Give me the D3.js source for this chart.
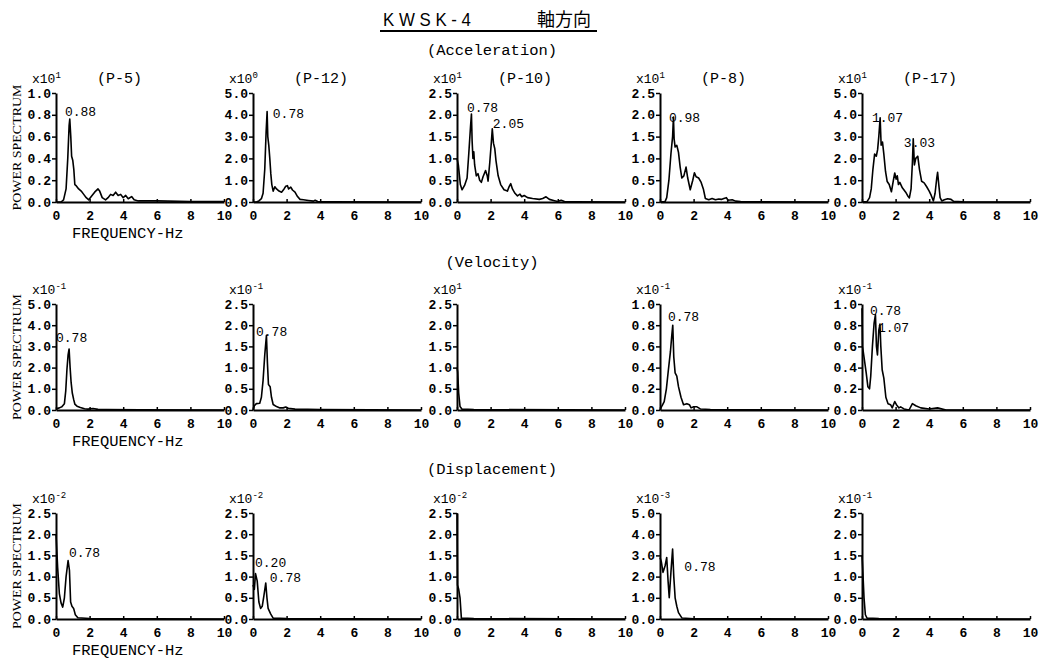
<!DOCTYPE html>
<html><head><meta charset="utf-8">
<script src="https://cdn.jsdelivr.net/npm/d3@7"></script>
<style>body{margin:0;background:#fff}svg{display:block}</style>
</head><body>
<script>
// ---------- data ----------
const sectionNames = ["(Acceleration)", "(Velocity)", "(Displacement)"];
const pointNames = ["(P-5)", "(P-12)", "(P-10)", "(P-8)", "(P-17)"];
const freqTicks = [0, 2, 4, 6, 8, 10];
const yMax = [[1.0, 5.0, 2.5, 2.5, 5.0], [5.0, 2.5, 2.5, 1.0, 1.0], [2.5, 2.5, 2.5, 5.0, 2.5]];
const yStep = [[0.2, 1.0, 0.5, 0.5, 1.0], [1.0, 0.5, 0.5, 0.2, 0.2], [0.5, 0.5, 0.5, 1.0, 0.5]];
const exponents = [["1", "0", "1", "1", "1"], ["-1", "-1", "1", "-1", "-1"], ["-2", "-2", "-2", "-3", "-1"]];

const accP5 = [[0,0],[0.3,0],[0.45,0.02],[0.6,0.12],[0.7,0.4],[0.78,0.7],[0.82,0.76],[0.88,0.6],[0.93,0.42],[1.0,0.38],[1.06,0.3],[1.12,0.16],[1.2,0.15],[1.35,0.12],[1.5,0.1],[1.65,0.07],[1.8,0.04],[1.95,0.02],[2.1,0.05],[2.3,0.09],[2.5,0.12],[2.6,0.1],[2.75,0.04],[2.95,0.02],[3.1,0.04],[3.25,0.07],[3.4,0.06],[3.55,0.09],[3.7,0.06],[3.85,0.07],[4.0,0.04],[4.15,0.06],[4.3,0.03],[4.5,0.05],[4.65,0.02],[4.9,0.01],[6,0.01],[8,0.005],[10,0.003]];
const accP12 = [[0,0],[0.2,0],[0.35,0.05],[0.5,0.15],[0.6,0.4],[0.7,1.5],[0.78,3.2],[0.84,4.15],[0.88,3.0],[0.94,2.6],[1.0,2.0],[1.06,1.3],[1.12,0.8],[1.2,0.5],[1.3,0.7],[1.4,0.6],[1.55,0.5],[1.7,0.45],[1.85,0.6],[1.95,0.72],[2.05,0.75],[2.12,0.6],[2.25,0.68],[2.35,0.55],[2.5,0.45],[2.65,0.25],[2.8,0.12],[3.0,0.1],[3.3,0.07],[3.6,0.04],[3.7,0.08],[3.85,0.02],[4.5,0.01],[10,0]];
const accP10 = [[0,1.0],[0.08,0.85],[0.2,0.4],[0.3,0.28],[0.45,0.38],[0.6,0.55],[0.7,1.1],[0.8,1.7],[0.86,2.02],[0.9,1.4],[0.95,1.0],[1.0,1.15],[1.05,0.85],[1.15,0.6],[1.25,0.65],[1.35,0.5],[1.45,0.45],[1.55,0.58],[1.7,0.72],[1.8,0.6],[1.85,0.48],[1.95,0.9],[2.05,1.4],[2.1,1.68],[2.17,1.35],[2.25,1.22],[2.32,0.95],[2.45,0.6],[2.6,0.4],[2.8,0.28],[3.0,0.25],[3.1,0.35],[3.2,0.42],[3.3,0.3],[3.45,0.2],[3.6,0.14],[3.75,0.18],[3.85,0.12],[4.0,0.15],[4.2,0.1],[4.5,0.08],[4.9,0.06],[5.1,0.08],[5.3,0.12],[5.5,0.06],[5.8,0.03],[6.0,0.01],[6.2,0.04],[6.4,0.01],[7,0.005],[10,0]];
const accP8 = [[0,0],[0.3,0.01],[0.4,0.1],[0.53,0.5],[0.65,1.1],[0.75,1.5],[0.8,1.95],[0.84,1.45],[0.9,1.26],[1.0,1.3],[1.1,1.14],[1.2,0.8],[1.3,0.55],[1.42,0.6],[1.55,0.8],[1.65,0.55],[1.8,0.28],[1.95,0.5],[2.05,0.67],[2.15,0.58],[2.3,0.55],[2.45,0.45],[2.58,0.3],[2.7,0.08],[2.9,0.05],[3.1,0.08],[3.3,0.05],[3.5,0.07],[3.65,0.06],[3.8,0.08],[3.95,0.1],[4.05,0.04],[4.3,0.05],[4.5,0.02],[4.8,0.01],[6,0.005],[10,0]];
const accP17 = [[0,0],[0.3,0.02],[0.45,0.2],[0.55,0.6],[0.65,1.5],[0.75,2.2],[0.85,2.1],[0.93,2.4],[1.0,3.0],[1.08,3.86],[1.14,2.6],[1.22,2.75],[1.3,2.2],[1.4,1.4],[1.5,0.94],[1.62,0.8],[1.75,0.47],[1.87,1.0],[1.95,1.33],[2.03,1.05],[2.1,1.2],[2.17,0.8],[2.25,0.9],[2.4,0.65],[2.6,0.45],[2.75,0.25],[2.82,0.19],[2.92,0.6],[3.0,1.8],[3.05,2.9],[3.12,1.7],[3.2,2.0],[3.32,2.1],[3.42,1.5],[3.55,0.95],[3.7,0.88],[3.85,0.7],[4.0,0.5],[4.12,0.3],[4.25,0.05],[4.35,0.4],[4.45,1.1],[4.5,1.36],[4.57,0.8],[4.65,0.2],[4.75,0.05],[4.9,0.1],[5.1,0.15],[5.3,0.12],[5.45,0.03],[6,0.01],[10,0]];

const velP5 = [[0,0.05],[0.2,0.1],[0.35,0.15],[0.5,0.3],[0.58,0.9],[0.65,1.9],[0.72,2.6],[0.78,2.88],[0.84,2.0],[0.9,1.3],[0.97,0.8],[1.05,0.5],[1.12,0.28],[1.25,0.18],[1.45,0.12],[1.7,0.06],[1.9,0.04],[2.2,0.07],[2.5,0.03],[3,0.02],[5,0.01],[10,0]];
const velP12 = [[0,0],[0.08,0.1],[0.2,0.15],[0.4,0.16],[0.5,0.3],[0.6,0.7],[0.7,1.3],[0.8,1.76],[0.86,1.1],[0.92,0.6],[1.02,0.55],[1.1,0.3],[1.2,0.13],[1.4,0.08],[1.6,0.05],[1.8,0.05],[1.95,0.07],[2.1,0.04],[2.5,0.02],[4,0.01],[10,0]];
const velP10 = [[0,1.0],[0.04,0.9],[0.1,0.4],[0.18,0.08],[0.3,0.02],[1,0.01],[10,0]];
const velP8 = [[0,0],[0.12,0.04],[0.25,0.08],[0.38,0.2],[0.5,0.38],[0.62,0.55],[0.7,0.7],[0.76,0.8],[0.82,0.5],[0.9,0.35],[1.0,0.32],[1.1,0.22],[1.25,0.12],[1.4,0.05],[1.6,0.06],[1.75,0.05],[1.85,0.02],[2.0,0.03],[2.2,0.03],[2.4,0.01],[3,0.005],[10,0]];
const velP17 = [[0,0.96],[0.03,0.6],[0.12,0.5],[0.25,0.35],[0.35,0.22],[0.45,0.2],[0.52,0.32],[0.62,0.6],[0.72,0.82],[0.8,0.9],[0.86,0.6],[0.92,0.52],[1.0,0.75],[1.07,0.81],[1.12,0.6],[1.2,0.38],[1.3,0.3],[1.42,0.12],[1.55,0.06],[1.7,0.05],[1.8,0.02],[1.95,0.08],[2.05,0.05],[2.2,0.02],[2.3,0.03],[2.5,0.01],[2.8,0.0],[3.0,0.06],[3.2,0.04],[3.5,0.02],[4,0.01],[4.5,0.02],[5,0.0],[10,0]];

const dispP5 = [[0,2.0],[0.05,1.6],[0.1,1.2],[0.2,0.6],[0.3,0.38],[0.4,0.28],[0.5,0.5],[0.6,1.0],[0.72,1.38],[0.8,1.15],[0.87,0.4],[0.95,0.3],[1.05,0.25],[1.15,0.1],[1.3,0.03],[2,0.01],[10,0]];
const dispP12 = [[0,0.8],[0.08,0.7],[0.15,1.07],[0.25,0.9],[0.35,0.4],[0.45,0.25],[0.55,0.3],[0.65,0.55],[0.76,0.85],[0.83,0.5],[0.9,0.25],[1.05,0.12],[1.2,0.02],[2,0.01],[10,0]];
const dispP10 = [[0,2.5],[0.03,0.8],[0.1,0.7],[0.18,0.5],[0.26,0.02],[1,0.01],[10,0]];
const dispP8 = [[0,2.9],[0.08,2.7],[0.18,2.2],[0.3,2.5],[0.4,2.9],[0.48,1.8],[0.55,1.0],[0.65,2.2],[0.75,3.3],[0.82,2.0],[0.9,1.0],[1.0,0.6],[1.1,0.3],[1.3,0.05],[2,0.01],[10,0]];
const dispP17 = [[0,1.5],[0.04,1.2],[0.12,0.5],[0.2,0.1],[0.3,0.02],[1,0.01],[10,0]];

const spectra = [
  [accP5, accP12, accP10, accP8, accP17],
  [velP5, velP12, velP10, velP8, velP17],
  [dispP5, dispP12, dispP10, dispP8, dispP17]
];

// peak labels: [row, col, text, freq anchor, value anchor]
const peakLabels = [
  [0, 0, "0.88", 0.53, 0.83],
  [0, 1, "0.78", 1.18, 4.08],
  [0, 2, "0.78", 0.59, 2.16],
  [0, 2, "2.05", 2.13, 1.81],
  [0, 3, "0.98", 0.53, 1.95],
  [0, 4, "1.07", 0.59, 3.9],
  [0, 4, "3.03", 2.49, 2.75],
  [1, 0, "0.78", 0.0, 3.4],
  [1, 1, "0.78", 0.18, 1.86],
  [1, 3, "0.78", 0.47, 0.88],
  [1, 4, "0.78", 0.47, 0.94],
  [1, 4, "1.07", 0.95, 0.78],
  [2, 0, "0.78", 0.77, 1.56],
  [2, 1, "0.20", 0.12, 1.34],
  [2, 1, "0.78", 1.0, 0.97],
  [2, 3, "0.78", 1.45, 2.5]
];

// ---------- layout ----------
const W = 1048, H = 661;
const colX = [56, 253, 457, 660, 862];
const plotW = 168;
const rowTop = [93, 304, 513];
const rowBottom = [202, 410, 619];
const sectionY = [55, 267, 474];
const mono = "'Liberation Mono', 'DejaVu Sans Mono', monospace";

const svg = d3.select("body").append("svg").attr("width", W).attr("height", H)
  .style("background", "#fff");

// title
svg.append("text").attr("x", 383).attr("y", 26)
  .attr("font-family", "'Liberation Sans', Arial, sans-serif").attr("font-size", 18)
  .attr("textLength", 88).attr("lengthAdjust", "spacingAndGlyphs")
  .text("K W S K - 4");
svg.append("text").attr("x", 537).attr("y", 26)
  .attr("font-family", "'Noto Sans CJK JP', sans-serif").attr("font-size", 18)
  .text("軸方向");
svg.append("line").attr("x1", 380).attr("x2", 597).attr("y1", 31).attr("y2", 31)
  .attr("stroke", "#000").attr("stroke-width", 2);

// section titles
sectionNames.forEach((s, r) => {
  svg.append("text").attr("x", 492).attr("y", sectionY[r]).attr("text-anchor", "middle")
    .attr("font-family", mono).attr("font-size", 15.5).text(s);
});

const line = d3.line();

spectra.forEach((rowData, r) => {
  rowData.forEach((data, c) => {
    const x = d3.scaleLinear().domain([0, 10]).range([colX[c], colX[c] + plotW]);
    const y = d3.scaleLinear().domain([0, yMax[r][c]]).range([rowBottom[r], rowTop[r]]);
    const g = svg.append("g");

    const yt = d3.range(0, yMax[r][c] + 1e-9, yStep[r][c]);
    const ya = g.append("g").attr("transform", `translate(${colX[c]},0)`)
      .call(d3.axisLeft(y).tickValues(yt).tickFormat(d3.format(".1f")).tickSize(4).tickPadding(1).tickSizeOuter(0));
    const xa = g.append("g").attr("transform", `translate(0,${rowBottom[r]})`)
      .call(d3.axisBottom(x).tickValues(freqTicks).tickFormat(d3.format("d")).tickSize(-3).tickPadding(9).tickSizeOuter(0));
    [ya, xa].forEach(a => {
      a.select(".domain").attr("stroke", "#000").attr("stroke-width", 2);
      a.selectAll(".tick line").attr("stroke", "#000").attr("stroke-width", 1.5);
      a.selectAll("text").attr("font-family", mono).attr("font-size", 13)
        .attr("font-weight", "bold").attr("fill", "#000");
    });

    g.append("path").datum(data)
      .attr("d", line.x(d => x(d[0])).y(d => y(d[1])))
      .attr("fill", "none").attr("stroke", "#000").attr("stroke-width", 1.6)
      .attr("stroke-linejoin", "round");

    // exponent label
    const ex = g.append("text").attr("x", colX[c] - 24).attr("y", rowTop[r] - 10)
      .attr("font-family", mono).attr("font-size", 13);
    ex.append("tspan").text("x10");
    ex.append("tspan").attr("dy", -5).attr("font-size", 9).text(exponents[r][c]);

    if (r === 0) {
      g.append("text").attr("x", colX[c] + 41).attr("y", rowTop[r] - 10)
        .attr("font-family", mono).attr("font-size", 15).text(pointNames[c]);
    }

    if (c === 0) {
      const cy = (rowTop[r] + rowBottom[r]) / 2;
      g.append("text").attr("transform", `translate(21,${cy}) rotate(-90)`)
        .attr("text-anchor", "middle")
        .attr("font-family", "'Liberation Serif', 'DejaVu Serif', serif").attr("font-size", 13)
        .attr("textLength", 126).attr("lengthAdjust", "spacingAndGlyphs")
        .text("POWER SPECTRUM");
      g.append("text").attr("x", colX[c] + 16).attr("y", rowBottom[r] + 36)
        .attr("font-family", mono).attr("font-size", 15.5).text("FREQUENCY-Hz");
    }

    peakLabels.filter(p => p[0] === r && p[1] === c).forEach(p => {
      g.append("text").attr("x", x(p[3])).attr("y", y(p[4])).attr("dy", "0.35em")
        .attr("font-family", mono).attr("font-size", 13).text(p[2]);
    });
  });
});
</script>
</body></html>
